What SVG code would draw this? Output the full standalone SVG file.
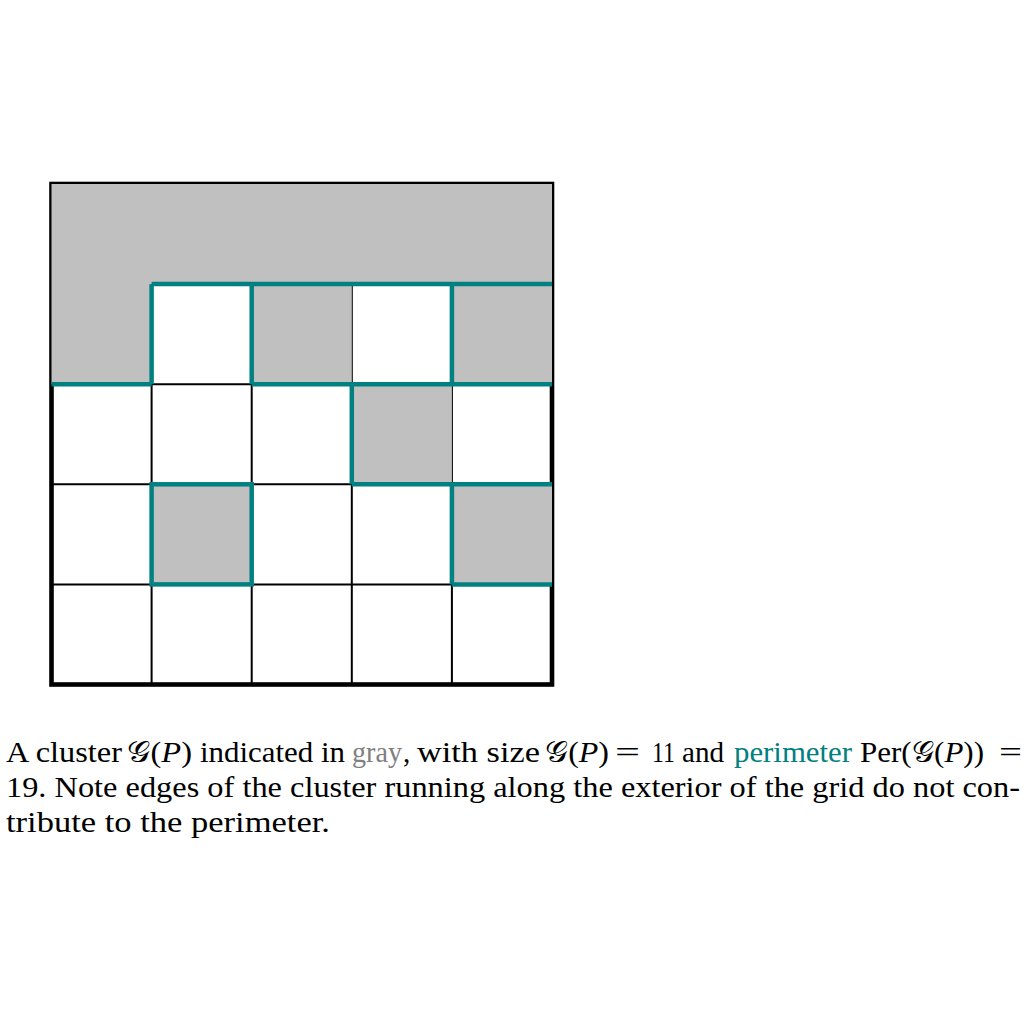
<svg xmlns="http://www.w3.org/2000/svg" width="1024" height="1024" viewBox="0 0 1024 1024">
<style>
.grid{stroke:#000;stroke-width:2;fill:none}
.border{stroke:#000;stroke-width:4.6;fill:none}
.cell{fill:#C0C0C0;stroke:none}
.per{stroke:#008080;stroke-width:4.5;fill:none;stroke-linecap:butt}
.t{font-family:"Liberation Serif","Times New Roman",serif;font-size:29px;fill:#000}
.it{font-style:italic}
.cal{font-family:"DejaVu Serif","DejaVu Sans","Noto Sans",serif;font-style:normal}
</style>
<rect width="1024" height="1024" fill="#fff"/>
<g id="grid">
<path class="grid" d="M151.6 184V684.5M251.7 184V684.5M351.8 184V684.5M451.9 184V684.5M51.5 284.1H552M51.5 384.2H552M51.5 484.3H552M51.5 584.4H552"/>
<rect class="border" x="51.5" y="184" width="500.5" height="500.5"/>
</g>
<g id="cluster">
<path id="top-region" class="cell" d="M51.5 184H552V284.1H151.6V384.2H51.5Z"/>
<rect id="c1-2" class="cell" x="251.7" y="283.6" width="100.1" height="100.6"/>
<rect id="c1-4" class="cell" x="451.9" y="283.6" width="100.1" height="100.6"/>
<rect id="c2-3" class="cell" x="351.8" y="384.2" width="100.1" height="100.1"/>
<rect id="c3-1" class="cell" x="151.6" y="484.3" width="100.1" height="100.1"/>
<rect id="c3-4" class="cell" x="451.9" y="484.3" width="100.1" height="100.1"/>
</g>
<g id="perimeter">
<path class="per" d="M151.6 284.1H552"/>
<path class="per" d="M151.6 284.1V384.2"/>
<path class="per" d="M251.7 284.1V384.2"/>
<path class="per" d="M451.9 284.1V384.2"/>
<path class="per" d="M51.5 384.2H151.6"/>
<path class="per" d="M251.7 384.2H552"/>
<path class="per" d="M351.8 384.2V484.3"/>
<path class="per" d="M351.8 484.3H552"/>
<path class="per" d="M451.9 484.3V584.4"/>
<path class="per" d="M451.9 584.4H552"/>
<rect class="per" x="151.6" y="484.3" width="100.1" height="100.1"/>
</g>
<g id="caption">
<text class="t" x="6" y="762" textLength="116" lengthAdjust="spacingAndGlyphs">A cluster</text>
<text class="t" x="127" y="762" textLength="65" lengthAdjust="spacingAndGlyphs"><tspan class="cal">𝒢</tspan>(<tspan class="it">P</tspan>)</text>
<text class="t" x="200" y="762" textLength="145" lengthAdjust="spacingAndGlyphs">indicated in</text>
<text class="t" x="352" y="762" textLength="50" lengthAdjust="spacingAndGlyphs" style="fill:#808080">gray</text>
<text class="t" x="403" y="762">,</text>
<text class="t" x="417" y="762" textLength="123" lengthAdjust="spacingAndGlyphs">with size</text>
<text class="t" x="545" y="762" textLength="64" lengthAdjust="spacingAndGlyphs"><tspan class="cal">𝒢</tspan>(<tspan class="it">P</tspan>)</text>
<text class="t" x="615" y="762" textLength="25" lengthAdjust="spacingAndGlyphs">=</text>
<text class="t" x="652" y="762" textLength="23" lengthAdjust="spacingAndGlyphs">11</text>
<text class="t" x="682" y="762" textLength="42" lengthAdjust="spacingAndGlyphs">and</text>
<text class="t" x="734" y="762" textLength="118" lengthAdjust="spacingAndGlyphs" style="fill:#008080">perimeter</text>
<text class="t" x="860" y="762" textLength="124" lengthAdjust="spacingAndGlyphs">Per(<tspan class="cal">𝒢</tspan>(<tspan class="it">P</tspan>))</text>
<text class="t" x="999" y="762" textLength="23" lengthAdjust="spacingAndGlyphs">=</text>
<text class="t" x="6" y="797" textLength="1014" lengthAdjust="spacingAndGlyphs">19.  Note edges of the cluster running along the exterior of the grid do not con-</text>
<text class="t" x="6" y="832" textLength="324" lengthAdjust="spacingAndGlyphs">tribute to the perimeter.</text>
</g>
</svg>
